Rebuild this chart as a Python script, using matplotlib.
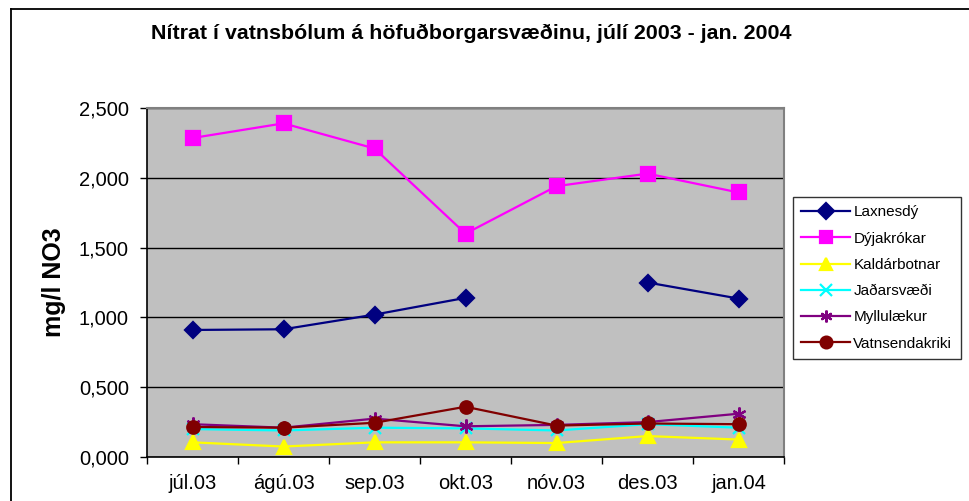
import numpy as np
import matplotlib.pyplot as plt
from matplotlib.lines import Line2D
from matplotlib.ticker import FuncFormatter

plt.rcParams['font.family'] = ['Liberation Sans', 'DejaVu Sans']

months = ['júl.03', 'ágú.03', 'sep.03', 'okt.03', 'nóv.03', 'des.03', 'jan.04']

laxnesdy = [0.91, 0.915, 1.02, 1.14, np.nan, 1.25, 1.135]
dyjakrokar = [2.285, 2.39, 2.21, 1.60, 1.94, 2.03, 1.895]
kaldarbotnar = [0.105, 0.075, 0.105, 0.105, 0.10, 0.15, 0.125]
jadarsvaedi = [0.20, 0.19, 0.21, 0.205, 0.19, 0.235, 0.21]
myllulaekur = [0.235, 0.21, 0.275, 0.22, 0.23, 0.25, 0.31]
vatnsendakriki = [0.215, 0.21, 0.245, 0.36, 0.225, 0.24, 0.235]

series = [
    ('Laxnesdý', laxnesdy, '#000080', 'D', 8.5),
    ('Dýjakrókar', dyjakrokar, '#FF00FF', 's', 9.5),
    ('Kaldárbotnar', kaldarbotnar, '#FFFF00', '^', 9.5),
    ('Jaðarsvæði', jadarsvaedi, '#00FFFF', 'x', 8),
    ('Myllulækur', myllulaekur, '#800080', (6, 2, 0), 10),
    ('Vatnsendakriki', vatnsendakriki, '#800000', 'o', 9),
]

fig = plt.figure(figsize=(9.69, 5.01), dpi=100)
ax = fig.add_axes([147 / 969, 44 / 501, 637 / 969, 349 / 501])
ax.set_facecolor('#C0C0C0')

x = np.arange(len(months))
handles = []
for name, vals, col, mk, ms in series:
    ln, = ax.plot(x, vals, color=col, linewidth=1.6, marker=mk, markersize=ms,
                  markerfacecolor=col, markeredgecolor=col, markeredgewidth=1.6,
                  label=name, clip_on=False)
    handles.append(ln)

ax.set_xlim(-0.5, len(months) - 0.5)
ax.set_ylim(0, 2.5)
ax.set_yticks(np.arange(0, 2.51, 0.5))
ax.yaxis.set_major_formatter(FuncFormatter(lambda v, p: f'{v:.3f}'.replace('.', ',')))
ax.yaxis.grid(True, color='black', linewidth=1)
ax.set_axisbelow(True)

# category ticks sit between the categories, labels centred on them
ax.set_xticks(np.arange(-0.5, len(months), 1))
ax.set_xticklabels([])
ax.set_xticks(x, minor=True)
ax.set_xticklabels(months, minor=True)
ax.tick_params(axis='x', which='minor', length=0, labelsize=14.5, pad=12)
ax.tick_params(axis='x', which='major', direction='out', length=5, width=1)
ax.tick_params(axis='y', direction='out', length=5, width=1, labelsize=14.5, pad=8)

for s in ['left', 'bottom']:
    ax.spines[s].set_color('black')
    ax.spines[s].set_linewidth(1.2)
for s in ['top', 'right']:
    ax.spines[s].set_color('#808080')
    ax.spines[s].set_linewidth(1.5)

ax.set_ylabel('mg/l NO3', fontsize=18, fontweight='bold', labelpad=9)

fig.text(471 / 969, 1 - 33 / 501,
         'Nítrat í vatnsbólum á höfuðborgarsvæðinu, júlí 2003 - jan. 2004',
         ha='center', va='center', fontsize=15.4, fontweight='bold')

leg = fig.legend(handles=handles, loc='upper left',
                 bbox_to_anchor=(793 / 969, 1 - 197 / 501),
                 fontsize=11, frameon=True, fancybox=False, edgecolor='black',
                 borderpad=0.55, labelspacing=0.8, handlelength=3.2,
                 handletextpad=0.2, borderaxespad=0)
leg.get_frame().set_linewidth(1)
for h in leg.legend_handles:
    h.set_markersize(8.5)

# outer chart border (top and left visible)
fig.add_artist(Line2D([11 / 969, 1], [1 - 9 / 501, 1 - 9 / 501],
                      color='black', linewidth=1.3, transform=fig.transFigure))
fig.add_artist(Line2D([11 / 969, 11 / 969], [0, 1 - 9 / 501],
                      color='black', linewidth=1.3, transform=fig.transFigure))

fig.savefig('out.png', dpi=100)
